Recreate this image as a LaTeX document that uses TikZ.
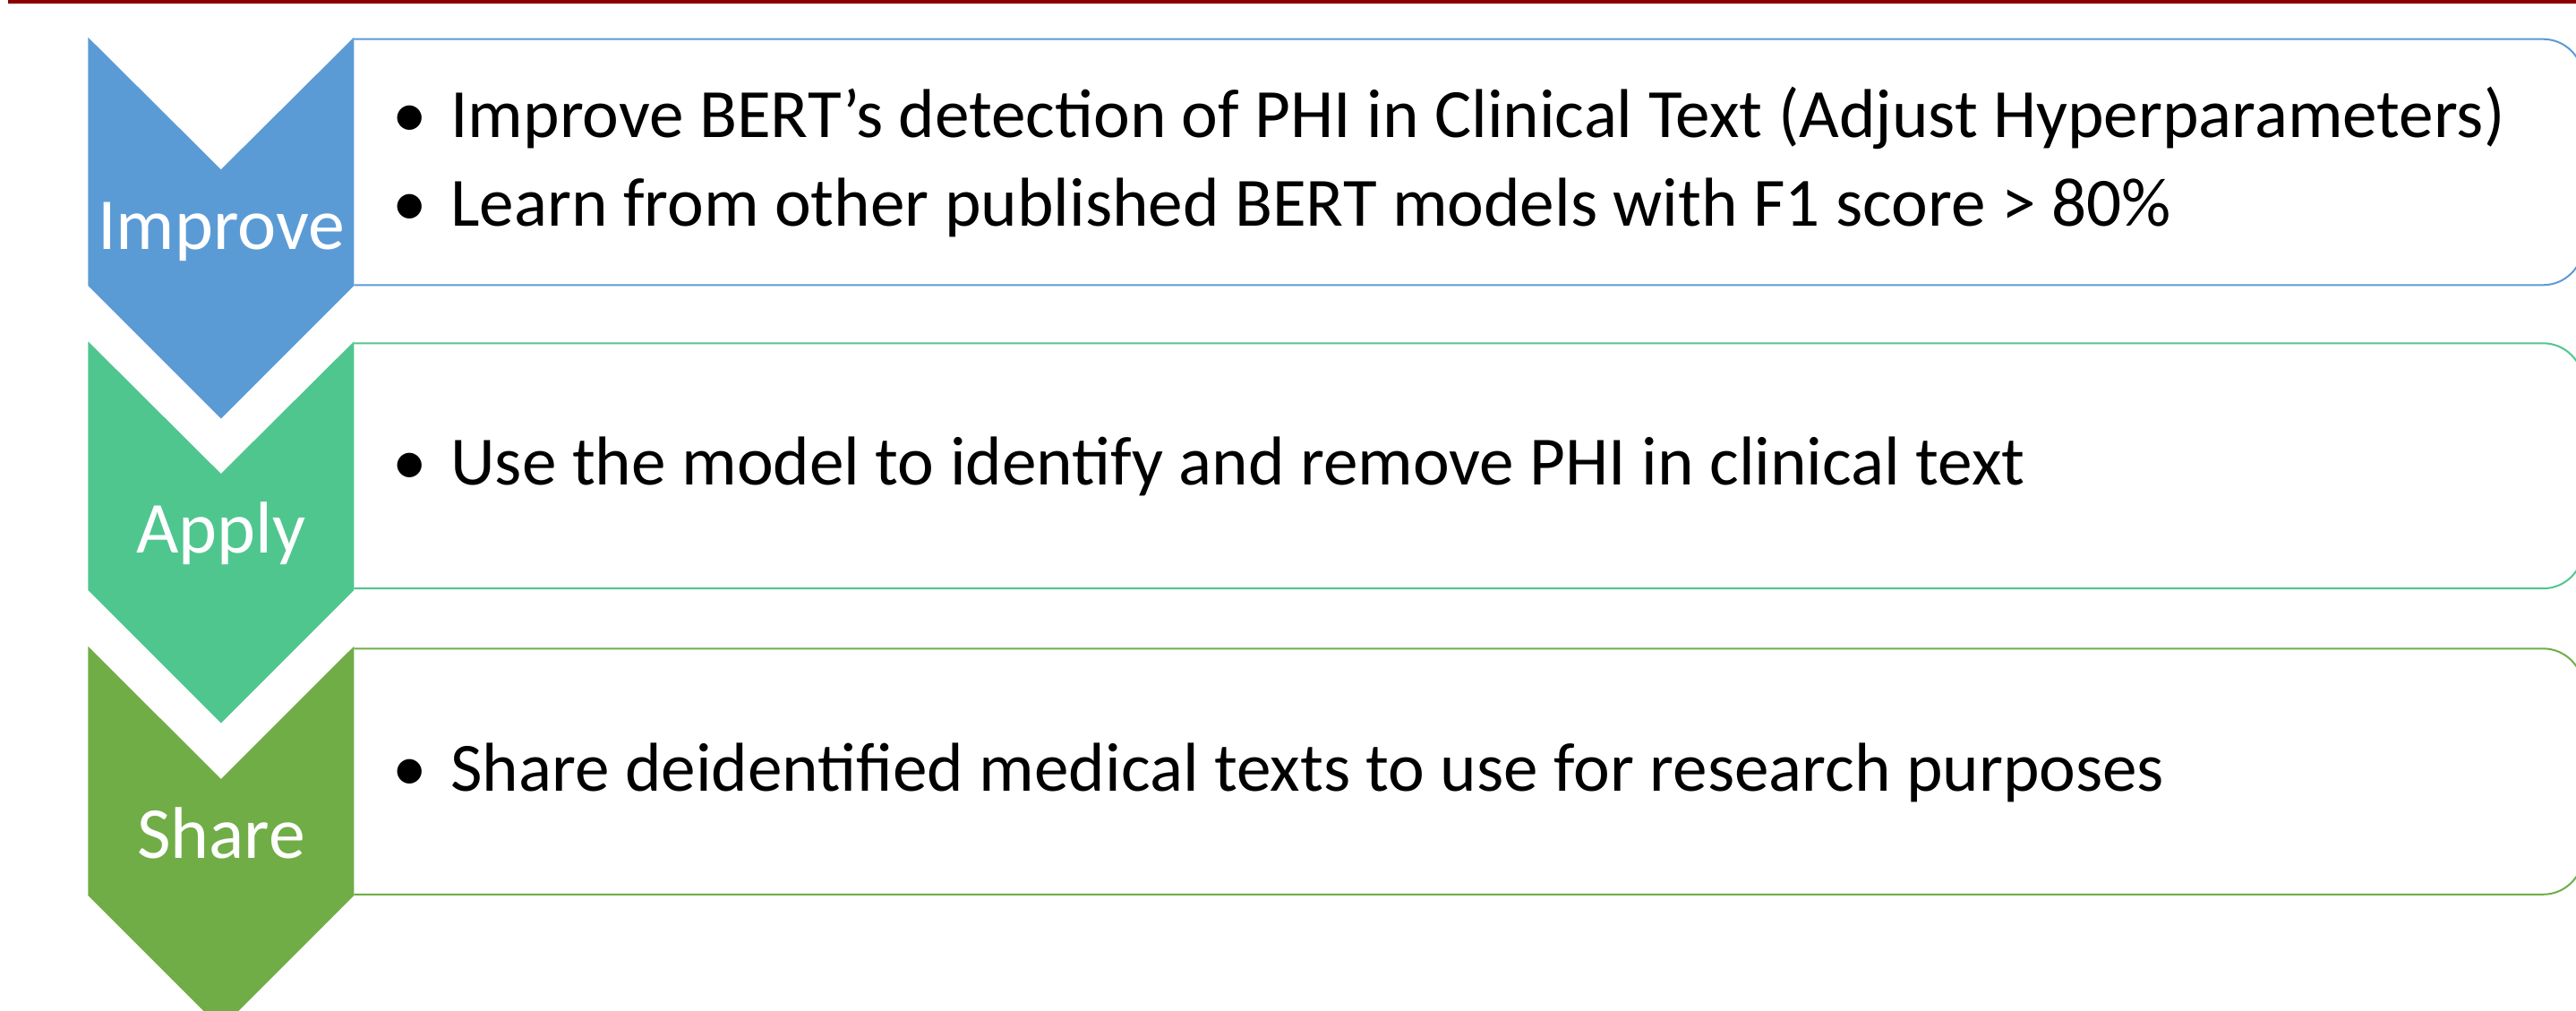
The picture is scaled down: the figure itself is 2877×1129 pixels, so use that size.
\documentclass[tikz,border=0pt]{standalone}
\usepackage{fontspec}
\setmainfont{Carlito}
\definecolor{cblue}{HTML}{5B9BD5}
\definecolor{cteal}{HTML}{50C68F}
\definecolor{cgreen}{HTML}{70AD47}
\definecolor{cred}{HTML}{8B0000}
\begin{document}
\begin{tikzpicture}[x=0.5pt,y=-0.5pt,
  steplabel/.style={text=white,font=\fontsize{40.9}{49}\selectfont,anchor=base,inner sep=0pt},
  item/.style={text=black,font=\fontsize{38.6}{46}\selectfont,anchor=base west,inner sep=0pt},
  bulletdot/.style={text=black,font=\fontsize{38.6}{46}\selectfont,anchor=base,inner sep=0pt},
  boxline/.style={line width=1pt,rounded corners=22.4pt}]
\useasboundingbox (0,0) rectangle (2877,1129);
\clip (0,0) rectangle (2877,1129);
\fill[cred] (9,0) rectangle (2877,4.5);
% chevrons
\fill[cblue] (98.4,41.7) -- (246.8,189.3) -- (395.3,41.7) -- (395.3,319) -- (246.8,467.5) -- (98.4,319) -- cycle;
\fill[cteal] (98.4,381.3) -- (246.8,529) -- (395.3,381.3) -- (395.3,659) -- (246.8,807.5) -- (98.4,659) -- cycle;
\fill[cgreen] (98.4,721.7) -- (246.8,870) -- (395.3,721.7) -- (395.3,1000) -- (246.8,1148.5) -- (98.4,1000) -- cycle;
% boxes
\draw[boxline,cblue] (395.3,43.7) -- (2885,43.7) -- (2885,318.3) -- (395.3,318.3);
\draw[boxline,cteal] (395.3,383.3) -- (2885,383.3) -- (2885,657.2) -- (395.3,657.2);
\draw[boxline,cgreen] (395.3,724.3) -- (2885,724.3) -- (2885,998.8) -- (395.3,998.8);
% texts
\node[steplabel] (l1) at (247,278.3) {Improve};
\node[bulletdot] (d1a) at (457.5,154) {•};
\node[item] (t1a) at (503,154) {Improve BERT’s detection of PHI in Clinical Text (Adjust Hyperparameters)};
\node[bulletdot] (d1b) at (457.5,252.3) {•};
\node[item] (t1b) at (503,252.3) {Learn from other published BERT models with F1 score > 80\%};
\node[steplabel] (l2) at (247,617.3) {Apply};
\node[bulletdot] (d2) at (457.5,541.7) {•};
\node[item] (t2) at (503,541.7) {Use the model to identify and remove PHI in clinical text};
\node[steplabel] (l3) at (247,958.3) {Share};
\node[bulletdot] (d3) at (457.5,883.3) {•};
\node[item] (t3) at (503,883.3) {Share deidentified medical texts to use for research purposes};
\end{tikzpicture}
\end{document}
